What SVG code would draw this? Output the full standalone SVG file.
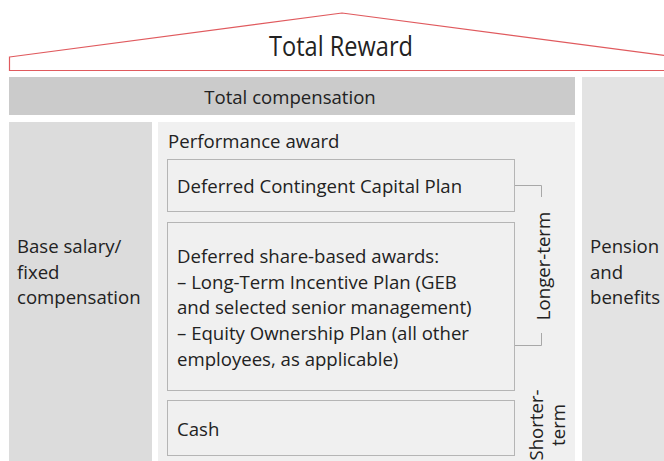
<svg xmlns="http://www.w3.org/2000/svg" width="664" height="461" viewBox="0 0 664 461">
  <style>
    text { font-family: "Open Sans", "Noto Sans", "Liberation Sans", sans-serif; fill: #222; font-size: 18.6px; }
    .title { font-size: 28px; }
    .box { fill: #f0f0f0; stroke: #b5b5b5; stroke-width: 1; }
    .conn { fill: none; stroke: #a8a8a8; stroke-width: 1; }
  </style>
  <rect x="0" y="0" width="664" height="461" fill="#ffffff"/>
  <g id="total-reward">
    <path d="M9.5,57 L342,13 L676,57 L676,70.5 L9.5,70.5 Z" fill="#ffffff" stroke="#e05a5e" stroke-width="1.2"/>
    <text class="title" x="269" y="56" textLength="144" lengthAdjust="spacingAndGlyphs">Total Reward</text>
  </g>
  <g id="total-compensation">
    <rect x="9" y="77" width="566" height="38" fill="#cbcbcb"/>
    <text x="290" y="104" text-anchor="middle">Total compensation</text>
  </g>
  <g id="base-salary">
    <rect x="9" y="122" width="143" height="339" fill="#dcdcdc"/>
    <text x="17" y="253">Base salary/</text>
    <text x="17" y="279">fixed</text>
    <text x="17" y="304">compensation</text>
  </g>
  <g id="pension">
    <rect x="582" y="77" width="82" height="384" fill="#e3e3e3"/>
    <text x="590" y="253">Pension</text>
    <text x="590" y="279">and</text>
    <text x="590" y="304">benefits</text>
  </g>
  <g id="performance-award">
    <rect x="158" y="122" width="417" height="339" fill="#f0f0f0"/>
    <text x="168" y="148">Performance award</text>
  </g>
  <g id="dccp">
    <rect class="box" x="167.5" y="159.5" width="347" height="52"/>
    <text x="177" y="193">Deferred Contingent Capital Plan</text>
  </g>
  <g id="deferred-share">
    <rect class="box" x="167.5" y="222.5" width="347" height="168"/>
    <text x="177" y="263">Deferred share-based awards:</text>
    <text x="177" y="289">– Long-Term Incentive Plan (GEB</text>
    <text x="177" y="314">and selected senior management)</text>
    <text x="177" y="340">– Equity Ownership Plan (all other</text>
    <text x="177" y="366">employees, as applicable)</text>
  </g>
  <g id="cash">
    <rect class="box" x="167.5" y="400.5" width="347" height="55"/>
    <text x="177" y="436">Cash</text>
  </g>
  <g id="connectors">
    <path class="conn" d="M515,185.5 H541.5 V197"/>
    <path class="conn" d="M541.5,333 V345.5 H515"/>
  </g>
  <g id="longer-term">
    <text transform="translate(550,266) rotate(-90)" text-anchor="middle">Longer-term</text>
  </g>
  <g id="shorter-term">
    <text transform="translate(543,425) rotate(-90)" text-anchor="middle">Shorter-</text>
    <text transform="translate(565,425) rotate(-90)" text-anchor="middle">term</text>
  </g>
</svg>
